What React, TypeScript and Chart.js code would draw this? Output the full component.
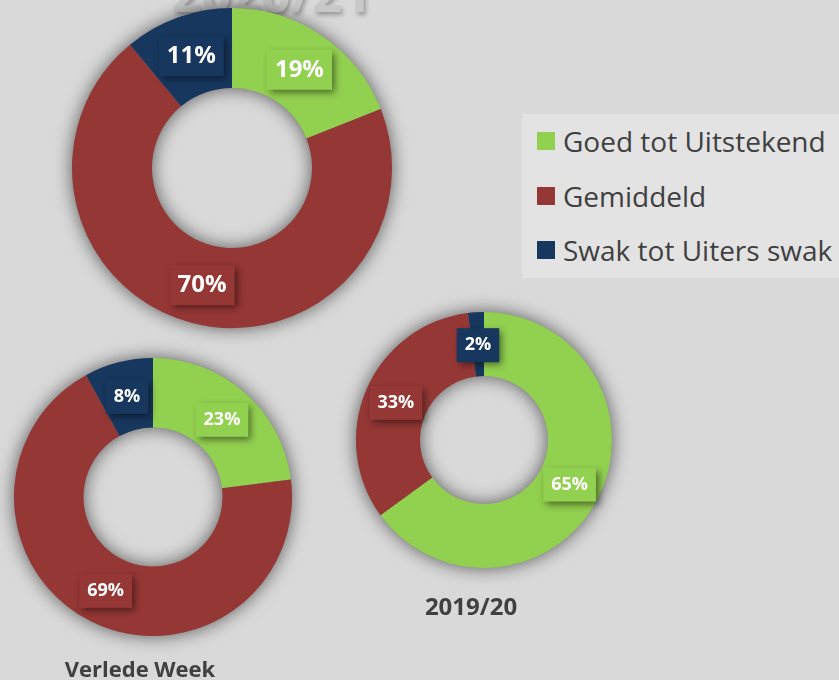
import React, { useEffect, useRef } from "react";
import { Chart, registerables } from "chart.js";

Chart.register(...registerables);

const categories = ["Goed tot Uitstekend", "Gemiddeld", "Swak tot Uiters swak"];
const colors = ["#92d050", "#953735", "#17375e"];

const currentValues = [19, 70, 11];
const lastWeekValues = [23, 69, 8];
const seasonValues = [65, 33, 2];

const currentTitle = "2020/21";
const lastWeekTitle = "Verlede Week";
const seasonTitle = "2019/20";

const FONT = "'Open Sans', 'DejaVu Sans', sans-serif";

const ringShadowPlugin = {
  id: "ringShadow",
  beforeDatasetsDraw(chart: any) {
    const meta = chart.getDatasetMeta(0);
    const arc = meta.data[0];
    if (!arc) return;
    const { x, y, outerRadius, innerRadius } = arc.getProps(["x", "y", "outerRadius", "innerRadius"], true);
    const ctx = chart.ctx;
    ctx.save();
    ctx.shadowColor = "rgba(0,0,0,0.6)";
    ctx.shadowBlur = 18;
    ctx.beginPath();
    ctx.arc(x, y, outerRadius, 0, Math.PI * 2);
    ctx.arc(x, y, innerRadius, 0, Math.PI * 2, true);
    ctx.closePath();
    ctx.fillStyle = "#888";
    ctx.fill();
    ctx.restore();
  },
};

const boxLabelPlugin = {
  id: "boxLabels",
  afterDatasetsDraw(chart: any) {
    const opts = chart.options.plugins.boxLabels || {};
    const size = opts.fontSize || 18;
    const meta = chart.getDatasetMeta(0);
    const data = chart.data.datasets[0].data;
    const bg = chart.data.datasets[0].backgroundColor;
    const ctx = chart.ctx;
    meta.data.forEach((el: any, i: number) => {
      const p = el.tooltipPosition(true);
      const text = data[i] + "%";
      ctx.save();
      ctx.font = `bold ${size}px ${FONT}`;
      const w = ctx.measureText(text).width + 16;
      const h = size + 16;
      ctx.shadowColor = "rgba(0,0,0,0.5)";
      ctx.shadowBlur = 7;
      ctx.shadowOffsetX = 3;
      ctx.shadowOffsetY = 3;
      ctx.fillStyle = bg[i];
      ctx.fillRect(p.x - w / 2, p.y + 1 - h / 2, w, h);
      ctx.restore();
      ctx.save();
      ctx.font = `bold ${size}px ${FONT}`;
      ctx.fillStyle = "#ffffff";
      ctx.textAlign = "center";
      ctx.textBaseline = "middle";
      ctx.fillText(text, p.x, p.y + 1);
      ctx.restore();
    });
  },
};

function Donut(props: { values: number[]; left: number; top: number; radius: number; fontSize: number }) {
  const ref = useRef<HTMLCanvasElement>(null);
  const pad = 26;
  const size = props.radius * 2 + pad * 2;
  useEffect(() => {
    if (!ref.current) return;
    const chart = new Chart(ref.current, {
      type: "doughnut",
      data: {
        labels: categories,
        datasets: [
          {
            data: props.values,
            backgroundColor: colors,
            borderWidth: 0,
          },
        ],
      },
      options: {
        responsive: false,
        animation: false,
        cutout: "50%",
        layout: { padding: pad },
        plugins: {
          legend: { display: false },
          tooltip: { enabled: false },
          boxLabels: { fontSize: props.fontSize },
        } as any,
      },
      plugins: [ringShadowPlugin, boxLabelPlugin],
    });
    return () => chart.destroy();
  }, []);
  return (
    <canvas
      ref={ref}
      width={size}
      height={size}
      style={{ position: "absolute", left: props.left - pad, top: props.top - pad, width: size, height: size }}
    />
  );
}

export default function App() {
  return (
    <div
      style={{
        position: "fixed",
        left: 0,
        top: 0,
        width: 839,
        height: 680,
        overflow: "hidden",
        background: "#d9d9d9",
        fontFamily: FONT,
      }}
    >
      <div
        style={{
          position: "absolute",
          left: 272 - 200,
          width: 400,
          top: -34,
          textAlign: "center",
          fontSize: 52,
          fontWeight: "bold",
          color: "#c8c8c8",
          lineHeight: "52px",
          textShadow: "2px 3px 4px rgba(0,0,0,0.3)",
        }}
      >
        {currentTitle}
      </div>
      <Donut values={currentValues} left={72} top={8} radius={160} fontSize={24} />
      <Donut values={lastWeekValues} left={14} top={358} radius={139} fontSize={18} />
      <Donut values={seasonValues} left={356} top={312} radius={128} fontSize={18} />
      <div
        style={{
          position: "absolute",
          left: 140 - 100,
          width: 200,
          top: 654,
          textAlign: "center",
          fontSize: 22,
          fontWeight: "bold",
          color: "#404040",
          lineHeight: "28px",
        }}
      >
        {lastWeekTitle}
      </div>
      <div
        style={{
          position: "absolute",
          left: 471 - 100,
          width: 200,
          top: 591,
          textAlign: "center",
          fontSize: 24,
          fontWeight: "bold",
          color: "#404040",
          lineHeight: "30px",
        }}
      >
        {seasonTitle}
      </div>
      <div
        style={{
          position: "absolute",
          left: 522,
          top: 114,
          width: 330,
          height: 164,
          background: "#e3e3e3",
        }}
      >
        {categories.map((c, i) => (
          <div
            key={c}
            style={{
              position: "absolute",
              left: 15,
              top: 27 + i * 54.5 - 18,
              height: 36,
              display: "flex",
              alignItems: "center",
              whiteSpace: "nowrap",
            }}
          >
            <span style={{ display: "inline-block", width: 18, height: 18, background: colors[i], marginRight: 8 }} />
            <span style={{ fontSize: 28, color: "#404040", lineHeight: "36px" }}>{c}</span>
          </div>
        ))}
      </div>
    </div>
  );
}
